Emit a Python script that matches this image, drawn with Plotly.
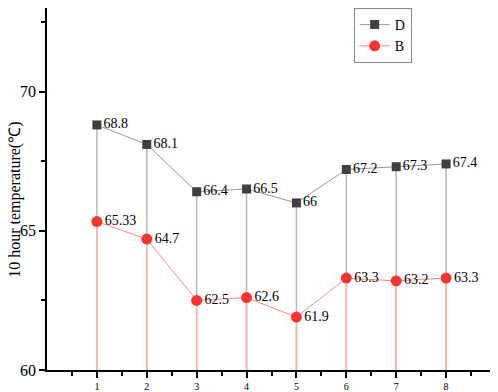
import plotly.graph_objects as go

x = [1, 2, 3, 4, 5, 6, 7, 8]
d_vals = [68.8, 68.1, 66.4, 66.5, 66.0, 67.2, 67.3, 67.4]
b_vals = [65.33, 64.7, 62.5, 62.6, 61.9, 63.3, 63.2, 63.3]
d_text = ["68.8", "68.1", "66.4", "66.5", "66", "67.2", "67.3", "67.4"]
b_text = ["65.33", "64.7", "62.5", "62.6", "61.9", "63.3", "63.2", "63.3"]
y_title = "10 hour temperature(℃)"
base = 60

FONT = "Liberation Serif"
fig = go.Figure()

# drop lines
for xi, yi in zip(x, d_vals):
    fig.add_trace(go.Scatter(x=[xi, xi], y=[base, yi], mode="lines",
                             line=dict(color="#b8b8b8", width=1.5),
                             showlegend=False, hoverinfo="skip"))
for xi, yi in zip(x, b_vals):
    fig.add_trace(go.Scatter(x=[xi, xi], y=[base, yi], mode="lines",
                             line=dict(color="#ffb0b0", width=1.5),
                             showlegend=False, hoverinfo="skip"))

fig.add_trace(go.Scatter(x=x, y=d_vals, mode="lines+markers+text", name="D",
                         text=d_text, textposition="middle right",
                         textfont=dict(family=FONT, size=14, color="black"),
                         line=dict(color="#999999", width=1),
                         marker=dict(symbol="square", size=9, color="#3f3f3f")))
fig.add_trace(go.Scatter(x=x, y=b_vals, mode="lines+markers+text", name="B",
                         text=b_text, textposition="middle right",
                         textfont=dict(family=FONT, size=14, color="black"),
                         line=dict(color="#ff8a8a", width=1),
                         marker=dict(symbol="circle", size=11, color="#ff3333")))

fig.add_annotation(text=y_title, xref="paper", yref="paper",
                   x=-43 / 449, y=0.47, xanchor="left", yanchor="middle",
                   textangle=-90, showarrow=False,
                   font=dict(family=FONT, size=16, color="black"))

fig.update_layout(
    width=490, height=384,
    margin=dict(l=39, r=2, t=0, b=22),
    paper_bgcolor="white", plot_bgcolor="white",
    font=dict(family=FONT, color="black"),
    legend=dict(x=0.683, y=1.0, xanchor="left", yanchor="top",
                bordercolor="#888888", borderwidth=1, bgcolor="white",
                font=dict(family=FONT, size=14), itemwidth=30,
                tracegroupgap=0),
    xaxis=dict(range=[0, 9], tickvals=x, showgrid=False, zeroline=False,
               automargin=False,
               showline=True, linecolor="black", linewidth=1.5,
               ticks="outside", ticklen=6, tickwidth=1.5, tickcolor="black",
               tickfont=dict(family=FONT, size=10),
               minor=dict(tickvals=[0.5 + i for i in range(9)], ticks="outside",
                          ticklen=4, tickwidth=1.5, tickcolor="black")),
    yaxis=dict(range=[60, 73], tickvals=[60, 65, 70], showgrid=False, zeroline=False,
               automargin=False,
               showline=True, linecolor="black", linewidth=1.5,
               ticks="outside", ticklen=6, tickwidth=1.5, tickcolor="black",
               tickfont=dict(family=FONT, size=16),
               minor=dict(tickvals=[62.5, 67.5, 72.5], ticks="outside",
                          ticklen=4, tickwidth=1.5, tickcolor="black")),
)

fig.write_html("out.html")
